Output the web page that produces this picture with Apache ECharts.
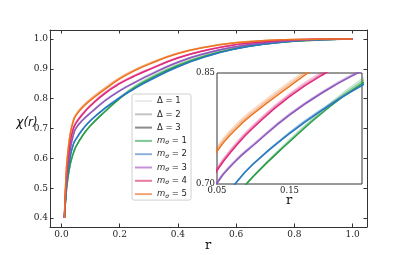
<!DOCTYPE html>
<html><head><meta charset="utf-8">
<script src="https://cdn.jsdelivr.net/npm/echarts@6/dist/echarts.min.js"></script>
<style>html,body{margin:0;padding:0;background:#fff}#c{width:407px;height:255px}</style>
</head><body><div id="c"></div>
<script>
// radial positions r
const r = [0.01, 0.015, 0.02, 0.03, 0.04, 0.05, 0.075, 0.1, 0.15, 0.2, 0.25, 0.3, 0.4, 0.5, 0.6, 0.7, 0.8, 0.9, 1.0];

// chi(r) for m_sigma = 1..5, Delta = 1..3
const m1d1 = [0.40,0.47,0.52,0.58,0.615,0.640,0.680,0.711,0.760,0.804,0.842,0.871,0.916,0.948,0.971,0.985,0.993,0.997,1.0];
const m1d2 = [0.40,0.47,0.52,0.58,0.615,0.640,0.680,0.710,0.758,0.802,0.839,0.867,0.913,0.946,0.969,0.984,0.993,0.997,1.0];
const m1d3 = [0.40,0.47,0.52,0.58,0.615,0.640,0.680,0.710,0.757,0.800,0.836,0.864,0.910,0.944,0.968,0.983,0.992,0.997,1.0];

const m2d1 = [0.40,0.481,0.536,0.606,0.646,0.666,0.701,0.728,0.770,0.805,0.835,0.862,0.908,0.943,0.968,0.983,0.993,0.998,1.0];
const m2d2 = [0.40,0.480,0.535,0.605,0.645,0.665,0.700,0.727,0.769,0.804,0.834,0.861,0.907,0.942,0.967,0.983,0.993,0.998,1.0];
const m2d3 = [0.40,0.480,0.535,0.605,0.645,0.665,0.700,0.727,0.768,0.803,0.833,0.860,0.907,0.942,0.967,0.983,0.993,0.998,1.0];

const m3d1 = [0.40,0.492,0.552,0.632,0.677,0.703,0.732,0.754,0.795,0.828,0.855,0.880,0.923,0.954,0.975,0.987,0.995,0.998,1.0];
const m3d2 = [0.40,0.491,0.551,0.631,0.676,0.702,0.731,0.753,0.794,0.827,0.854,0.879,0.923,0.953,0.974,0.987,0.995,0.998,1.0];
const m3d3 = [0.40,0.490,0.550,0.630,0.675,0.701,0.730,0.752,0.793,0.826,0.853,0.878,0.922,0.953,0.974,0.987,0.995,0.998,1.0];

const m4d1 = [0.40,0.514,0.579,0.659,0.701,0.722,0.754,0.780,0.822,0.854,0.878,0.899,0.938,0.964,0.982,0.991,0.997,0.999,1.0];
const m4d2 = [0.40,0.512,0.577,0.657,0.699,0.720,0.752,0.778,0.820,0.852,0.877,0.898,0.937,0.963,0.981,0.991,0.997,0.999,1.0];
const m4d3 = [0.40,0.510,0.575,0.655,0.697,0.718,0.750,0.776,0.818,0.850,0.875,0.897,0.936,0.963,0.981,0.991,0.997,0.999,1.0];

const m5d1 = [0.40,0.535,0.606,0.686,0.728,0.750,0.779,0.801,0.838,0.871,0.897,0.919,0.953,0.975,0.988,0.995,0.998,0.9995,1.0];
const m5d2 = [0.40,0.532,0.603,0.683,0.725,0.747,0.776,0.798,0.835,0.869,0.895,0.917,0.952,0.974,0.988,0.995,0.998,0.9995,1.0];
const m5d3 = [0.40,0.530,0.600,0.680,0.722,0.744,0.773,0.795,0.832,0.866,0.893,0.915,0.951,0.973,0.987,0.995,0.998,0.9995,1.0];

const xTicks = [0.0, 0.2, 0.4, 0.6, 0.8, 1.0];
const yTicks = [0.4, 0.5, 0.6, 0.7, 0.8, 0.9, 1.0];
const insetXTicks = [0.05, 0.15];
const insetYTicks = [0.70, 0.85];

const legendNames = ['Δ = 1', 'Δ = 2', 'Δ = 3', 'm_σ = 1', 'm_σ = 2', 'm_σ = 3', 'm_σ = 4', 'm_σ = 5'];
const legendColors = ['#ebebeb', '#c4c4c4', '#8c8c8c', '#7fc797', '#8db1dc', '#c592d6', '#ea7aa1', '#f2a479'];

const mColors = ['#2a9d48', '#2679c0', '#8f58bd', '#e0287a', '#ec7420'];
const groups = [[m1d1, m1d2, m1d3], [m2d1, m2d2, m2d3], [m3d1, m3d2, m3d3], [m4d1, m4d2, m4d3], [m5d1, m5d2, m5d3]];
const dAlpha = [0.25, 0.5, 1.0];

const series = [];
[0, 2].forEach(function (axIdx) {
  for (let d = 0; d < 3; d++) {
    groups.forEach(function (g, mi) {
      series.push({
        type: 'line', name: 'm' + (mi + 1) + 'd' + (d + 1) + '_' + axIdx,
        xAxisIndex: axIdx, yAxisIndex: axIdx,
        data: g[d].map(function (v, i) { return [r[i], v]; }),
        smooth: 0.5, symbol: 'none', clip: true,
        lineStyle: { color: mColors[mi], width: 1.5, opacity: dAlpha[d] },
        itemStyle: { color: mColors[mi] },
        z: (axIdx === 2 ? 8 : 2) + d, silent: true
      });
    });
  }
});
legendNames.forEach(function (n, i) {
  series.push({ type: 'line', name: n, data: [], symbol: 'none', xAxisIndex: 0, yAxisIndex: 0,
    lineStyle: { color: legendColors[i], width: 2 }, itemStyle: { color: legendColors[i] } });
});

const serif = 'DejaVu Serif';
const frame = { show: true, onZero: false, lineStyle: { color: '#333', width: 1 } };
const tickStyle = { show: true, inside: true, length: 3.5, lineStyle: { color: '#333', width: 1 } };

const option = {
  animation: false,
  backgroundColor: '#fff',
  grid: [
    { left: 50, top: 30, right: 40, bottom: 28, show: false },
    { left: 217, top: 73, width: 145, height: 111, show: true, borderColor: '#333', borderWidth: 1, backgroundColor: '#fff', z: 5 }
  ],
  xAxis: [
    { type: 'value', gridIndex: 0, min: -0.0395, max: 1.0495, position: 'bottom',
      axisLine: frame, splitLine: { show: false },
      axisTick: Object.assign({ customValues: xTicks }, tickStyle),
      axisLabel: { customValues: xTicks, formatter: function (v) { return v.toFixed(1); }, margin: 3, fontFamily: serif, fontSize: 9, color: '#222' } },
    { type: 'value', gridIndex: 0, min: -0.0395, max: 1.0495, position: 'top',
      axisLine: frame, splitLine: { show: false },
      axisTick: Object.assign({ customValues: xTicks }, tickStyle),
      axisLabel: { show: false } },
    { type: 'value', gridIndex: 1, min: 0.05, max: 0.25, position: 'bottom', z: 12,
      axisLine: { show: false }, splitLine: { show: false }, axisTick: { show: false },
      axisLabel: { customValues: insetXTicks, formatter: function (v) { return v.toFixed(2); }, margin: 2, fontFamily: serif, fontSize: 8.5, color: '#222' } }
  ],
  yAxis: [
    { type: 'value', gridIndex: 0, min: 0.37, max: 1.03, position: 'left',
      axisLine: frame, splitLine: { show: false },
      axisTick: Object.assign({ customValues: yTicks }, tickStyle),
      axisLabel: { customValues: yTicks, formatter: function (v) { return v.toFixed(1); }, margin: 2, fontFamily: serif, fontSize: 9, color: '#222' } },
    { type: 'value', gridIndex: 0, min: 0.37, max: 1.03, position: 'right',
      axisLine: frame, splitLine: { show: false },
      axisTick: Object.assign({ customValues: yTicks }, tickStyle),
      axisLabel: { show: false } },
    { type: 'value', gridIndex: 1, min: 0.70, max: 0.85, position: 'left', z: 12,
      axisLine: { show: false }, splitLine: { show: false }, axisTick: { show: false },
      axisLabel: { customValues: insetYTicks, formatter: function (v) { return v.toFixed(2); }, margin: 2, fontFamily: serif, fontSize: 8.5, color: '#222' } }
  ],
  legend: {
    data: legendNames, orient: 'vertical', left: 132, top: 94,
    padding: [2, 4, 1, 3], itemGap: 3.3, itemWidth: 17, itemHeight: 2, icon: 'rect',
    backgroundColor: '#fff', borderColor: '#d0d0d0', borderWidth: 1, borderRadius: 2,
    selectedMode: false, z: 10,
    textStyle: { fontFamily: 'DejaVu Sans', fontSize: 8.5, lineHeight: 10, color: '#222',
      rich: {
        t: { fontFamily: 'DejaVu Sans', fontSize: 8.5, lineHeight: 10, color: '#222' },
        i: { fontFamily: 'DejaVu Sans', fontStyle: 'italic', fontSize: 8.5, lineHeight: 10, color: '#222' },
        s: { fontFamily: 'DejaVu Sans', fontStyle: 'italic', fontSize: 6, lineHeight: 10, color: '#222', verticalAlign: 'bottom', padding: [3, 0, 0, 0] }
      } },
    formatter: function (n) {
      if (n.indexOf('m_σ') === 0) return '{i|m}{s|σ}{t|' + n.slice(3) + '}';
      return '{t|' + n + '}';
    }
  },
  graphic: [
    { type: 'text', x: 27, y: 123, z: 20, style: { text: 'χ(r)', fontFamily: 'DejaVu Sans', fontStyle: 'italic', fontSize: 12, fill: '#111', align: 'center', verticalAlign: 'middle', textAlign: 'center', textVerticalAlign: 'middle' } },
    { type: 'text', x: 208, y: 246, z: 20, style: { text: 'r', fontFamily: serif, fontSize: 13, fill: '#111', align: 'center', verticalAlign: 'middle', textAlign: 'center', textVerticalAlign: 'middle' } },
    { type: 'text', x: 289, y: 201, z: 20, style: { text: 'r', fontFamily: serif, fontSize: 13, fill: '#111', align: 'center', verticalAlign: 'middle', textAlign: 'center', textVerticalAlign: 'middle' } }
  ],
  series: series
};
const chart = echarts.init(document.getElementById('c'), null, { renderer: 'canvas' });
chart.setOption(option);
</script></body></html>
